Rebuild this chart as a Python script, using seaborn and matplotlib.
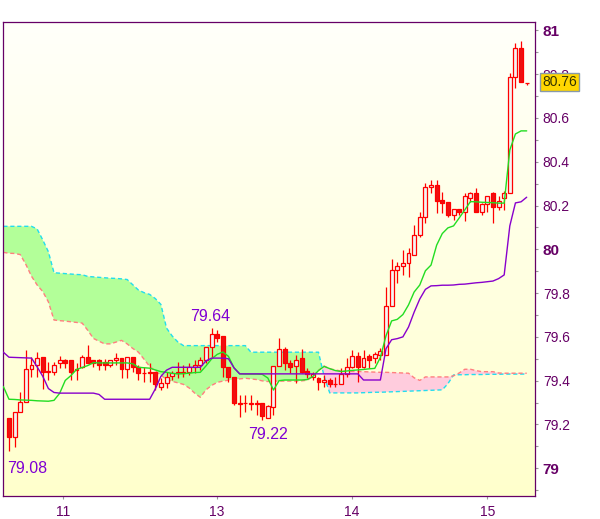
import numpy as np
import pandas as pd
import seaborn as sns
import matplotlib
matplotlib.use("Agg")
from matplotlib import pyplot as plt
from matplotlib import transforms
from matplotlib.colors import LinearSegmentedColormap

# candles, oldest first
opens = [79.228, 79.142, 79.259, 79.304, 79.452, 79.472, 79.510, 79.441, 79.441, 79.482,
         79.495, 79.495, 79.450, 79.461, 79.510, 79.495, 79.495, 79.487, 79.472, 79.495,
         79.503, 79.452, 79.510, 79.461, 79.434, 79.434, 79.441, 79.370, 79.391, 79.422,
         79.434, 79.441, 79.441, 79.461, 79.472, 79.495, 79.556, 79.614, 79.604, 79.461,
         79.418, 79.300, 79.297, 79.292, 79.300, 79.297, 79.228, 79.281, 79.467, 79.544,
         79.482, 79.467, 79.503, 79.446, 79.416, 79.411, 79.396, 79.403, 79.385, 79.385,
         79.431, 79.461, 79.513, 79.461, 79.513, 79.503, 79.518, 79.518, 79.743, 79.906,
         79.924, 79.937, 79.974, 80.064, 80.147, 80.284, 80.294, 80.226, 80.217, 80.157,
         80.183, 80.172, 80.233, 80.256, 80.172, 80.206, 80.256, 80.192, 80.233, 80.256,
         80.789, 80.919, 80.760]
highs = [79.230, 79.259, 79.350, 79.540, 79.507, 79.533, 79.510, 79.487, 79.487, 79.513,
         79.500, 79.495, 79.480, 79.518, 79.563, 79.495, 79.500, 79.500, 79.495, 79.525,
         79.503, 79.510, 79.510, 79.472, 79.464, 79.480, 79.441, 79.411, 79.441, 79.446,
         79.487, 79.472, 79.480, 79.495, 79.510, 79.556, 79.640, 79.630, 79.604, 79.461,
         79.418, 79.335, 79.335, 79.335, 79.310, 79.297, 79.290, 79.467, 79.594, 79.556,
         79.495, 79.518, 79.544, 79.457, 79.441, 79.418, 79.426, 79.411, 79.418, 79.457,
         79.503, 79.540, 79.533, 79.540, 79.522, 79.533, 79.548, 79.830, 79.955, 79.944,
         79.997, 80.005, 80.111, 80.172, 80.305, 80.317, 80.317, 80.264, 80.217, 80.183,
         80.183, 80.256, 80.264, 80.279, 80.211, 80.244, 80.264, 80.244, 80.268, 80.804,
         80.944, 80.953, 80.760]
lows = [79.080, 79.099, 79.259, 79.302, 79.418, 79.418, 79.361, 79.403, 79.426, 79.457,
        79.457, 79.403, 79.403, 79.457, 79.480, 79.464, 79.449, 79.449, 79.464, 79.472,
        79.411, 79.411, 79.441, 79.403, 79.396, 79.396, 79.358, 79.358, 79.365, 79.403,
        79.411, 79.418, 79.426, 79.434, 79.449, 79.480, 79.510, 79.578, 79.418, 79.396,
        79.289, 79.235, 79.259, 79.266, 79.243, 79.220, 79.228, 79.243, 79.467, 79.449,
        79.434, 79.388, 79.434, 79.411, 79.403, 79.358, 79.373, 79.373, 79.373, 79.385,
        79.418, 79.457, 79.396, 79.457, 79.457, 79.480, 79.495, 79.518, 79.743, 79.845,
        79.883, 79.873, 79.974, 80.055, 80.122, 80.256, 80.165, 80.165, 80.147, 80.134,
        80.157, 80.131, 80.218, 80.172, 80.157, 80.172, 80.122, 80.180, 80.180, 80.256,
        80.736, 80.763, 80.750]
closes = [79.142, 79.259, 79.302, 79.452, 79.472, 79.503, 79.441, 79.441, 79.472, 79.495,
          79.482, 79.441, 79.455, 79.510, 79.482, 79.482, 79.472, 79.472, 79.495, 79.503,
          79.452, 79.510, 79.461, 79.434, 79.434, 79.441, 79.384, 79.391, 79.418, 79.434,
          79.441, 79.434, 79.461, 79.472, 79.495, 79.556, 79.614, 79.594, 79.461, 79.418,
          79.300, 79.292, 79.297, 79.300, 79.292, 79.239, 79.285, 79.467, 79.544, 79.482,
          79.461, 79.495, 79.441, 79.431, 79.431, 79.396, 79.403, 79.385, 79.385, 79.431,
          79.461, 79.513, 79.461, 79.503, 79.495, 79.522, 79.537, 79.743, 79.906, 79.924,
          79.937, 79.985, 80.064, 80.147, 80.284, 80.294, 80.222, 80.213, 80.157, 80.183,
          80.172, 80.244, 80.256, 80.172, 80.206, 80.244, 80.192, 80.222, 80.256, 80.789,
          80.919, 80.763, 80.760]

# ichimoku lines, one value per bar, starting one bar before the first candle
tenkan = [79.373, 79.315, 79.314, 79.312, 79.311, 79.310, 79.308, 79.307, 79.306, 79.310,
          79.342, 79.401, 79.423, 79.451, 79.460, 79.469, 79.482, 79.481, 79.481, 79.481,
          79.481, 79.481, 79.481, 79.477, 79.461, 79.459, 79.457, 79.449, 79.441, 79.438,
          79.433, 79.431, 79.432, 79.434, 79.437, 79.438, 79.467, 79.499, 79.520, 79.531,
          79.511, 79.458, 79.431, 79.430, 79.430, 79.430, 79.429, 79.412, 79.357, 79.400,
          79.403, 79.403, 79.403, 79.403, 79.405, 79.419, 79.446, 79.465, 79.455, 79.446,
          79.442, 79.444, 79.447, 79.449, 79.451, 79.454, 79.456, 79.506, 79.605, 79.673,
          79.680, 79.702, 79.746, 79.805, 79.837, 79.902, 79.928, 80.019, 80.072, 80.098,
          80.107, 80.143, 80.180, 80.218, 80.217, 80.215, 80.214, 80.213, 80.211, 80.211,
          80.454, 80.527, 80.541, 80.541]
kijun = [79.530, 79.507, 79.506, 79.505, 79.504, 79.503, 79.463, 79.420, 79.364, 79.346,
         79.343, 79.343, 79.343, 79.343, 79.343, 79.343, 79.343, 79.337, 79.315, 79.315,
         79.315, 79.315, 79.315, 79.315, 79.315, 79.315, 79.315, 79.362, 79.420, 79.448,
         79.461, 79.461, 79.461, 79.461, 79.461, 79.461, 79.490, 79.503, 79.503, 79.503,
         79.500, 79.458, 79.431, 79.431, 79.431, 79.431, 79.431, 79.431, 79.431, 79.431,
         79.431, 79.431, 79.431, 79.431, 79.431, 79.431, 79.431, 79.431, 79.431, 79.431,
         79.431, 79.431, 79.431, 79.431, 79.403, 79.403, 79.403, 79.403, 79.546, 79.587,
         79.592, 79.600, 79.645, 79.713, 79.773, 79.817, 79.833, 79.834, 79.836, 79.836,
         79.837, 79.840, 79.841, 79.844, 79.847, 79.849, 79.852, 79.855, 79.866, 79.883,
         80.107, 80.212, 80.217, 80.238]
span_b = [80.105, 80.105, 80.105, 80.105, 80.105, 80.105, 80.093, 80.043, 79.989, 79.893,
          79.891, 79.889, 79.887, 79.885, 79.884, 79.876, 79.874, 79.872, 79.870, 79.868,
          79.867, 79.865, 79.862, 79.838, 79.814, 79.802, 79.794, 79.775, 79.748, 79.640,
          79.604, 79.577, 79.560, 79.560, 79.560, 79.560, 79.560, 79.560, 79.560, 79.560,
          79.560, 79.560, 79.560, 79.560, 79.530, 79.530, 79.530, 79.530, 79.530, 79.530,
          79.530, 79.530, 79.530, 79.530, 79.530, 79.530, 79.530, 79.420, 79.344, 79.344,
          79.344, 79.344, 79.344, 79.344, 79.345, 79.346, 79.347, 79.347, 79.348, 79.349,
          79.350, 79.351, 79.352, 79.353, 79.354, 79.355, 79.356, 79.357, 79.358, 79.386,
          79.426, 79.427, 79.427, 79.428, 79.428, 79.428, 79.429, 79.429, 79.429, 79.430,
          79.430, 79.430, 79.430, 79.430]
span_a = [79.986, 79.982, 79.981, 79.976, 79.931, 79.877, 79.837, 79.807, 79.760, 79.677,
          79.674, 79.672, 79.669, 79.666, 79.663, 79.630, 79.593, 79.580, 79.568, 79.568,
          79.576, 79.584, 79.568, 79.547, 79.530, 79.498, 79.465, 79.444, 79.425, 79.405,
          79.397, 79.390, 79.383, 79.367, 79.343, 79.324, 79.358, 79.378, 79.392, 79.398,
          79.402, 79.406, 79.408, 79.411, 79.408, 79.405, 79.399, 79.396, 79.398, 79.398,
          79.398, 79.398, 79.398, 79.399, 79.402, 79.419, 79.447, 79.467, 79.454, 79.449,
          79.444, 79.443, 79.442, 79.442, 79.441, 79.440, 79.439, 79.438, 79.438, 79.437,
          79.436, 79.435, 79.434, 79.413, 79.401, 79.417, 79.417, 79.417, 79.417, 79.417,
          79.422, 79.435, 79.452, 79.452, 79.446, 79.441, 79.441, 79.441, 79.435, 79.434,
          79.434, 79.434, 79.434, 79.434]

# day ticks on the bar axis
day_pos = [9.6, 36.9, 60.9, 85.0]
day_labels = ["11", "13", "14", "15"]

price_ticks = [79.0, 79.2, 79.4, 79.6, 79.8, 80.0, 80.2, 80.4, 80.6, 80.8, 81.0]
price_labels = ["79", "79.2", "79.4", "79.6", "79.8", "80", "80.2", "80.4", "80.6", "80.8", "81"]
minor_ticks = [78.9, 79.1, 79.3, 79.5, 79.7, 79.9, 80.1, 80.3, 80.5, 80.7, 80.9]

# highs/lows that carry a value label: (bar, "high"/"low")
marked_bars = [0, 36, 45]
marked_kind = ["low", "high", "low"]
last_price = 80.76

if __name__ == "__main__":
    sns.set_style("white")
    plt.rcParams["font.family"] = ["Liberation Sans", "DejaVu Sans"]

    candles = pd.DataFrame({"open": opens, "high": highs, "low": lows, "close": closes})
    candles["bar"] = np.arange(len(candles))
    lines = pd.DataFrame({"tenkan": tenkan, "kijun": kijun, "span_a": span_a, "span_b": span_b})
    lines["bar"] = np.arange(-1, len(lines) - 1)

    fig = plt.figure(figsize=(6, 5.19), dpi=100)
    ax = fig.add_axes([0.0055, 0.0443, 0.8862, 0.9127])
    xlim = (-1.01, 93.48)
    ylim = (78.873, 81.037)

    # pale yellow gradient background
    grad = LinearSegmentedColormap.from_list("bg", ["#FFFFCC", "#FFFFFA"])
    ax.imshow(np.linspace(0, 1, 256).reshape(-1, 1), cmap=grad, origin="lower",
              extent=[xlim[0], xlim[1], ylim[0], ylim[1]], aspect="auto", zorder=0)

    # cloud
    up_cloud = lines.span_b >= lines.span_a
    ax.fill_between(lines.bar, lines.span_b, lines.span_a, where=up_cloud, interpolate=True,
                    color="#B3FF99", lw=0, zorder=1)
    ax.fill_between(lines.bar, lines.span_b, lines.span_a, where=~up_cloud, interpolate=True,
                    color="#FFCCDD", lw=0, zorder=1)
    sns.lineplot(data=lines, x="bar", y="span_b", ax=ax, color="#22DDEE", linewidth=1.0,
                 linestyle=(0, (3, 2)), zorder=2, legend=False)
    sns.lineplot(data=lines, x="bar", y="span_a", ax=ax, color="#FF7F7F", linewidth=1.0,
                 linestyle=(0, (3, 2)), zorder=2, legend=False)

    # candles
    rising = candles.close >= candles.open
    body_low = np.minimum(candles.open, candles.close)
    body_h = np.maximum((candles.close - candles.open).abs(), 0.0015)
    ax.vlines(candles.bar, candles.low, candles.high, color="#FF0000", linewidth=0.9, zorder=3)
    ax.bar(candles.bar, body_h, bottom=body_low, width=0.7,
           color=np.where(rising, "#F4F4F4", "#EE1111"), edgecolor="#FF0000",
           linewidth=0.9, zorder=4)

    # conversion / base lines
    sns.lineplot(data=lines, x="bar", y="tenkan", ax=ax, color="#22DD22", linewidth=1.0,
                 zorder=5, legend=False)
    sns.lineplot(data=lines, x="bar", y="kijun", ax=ax, color="#8800CC", linewidth=1.0,
                 zorder=5, legend=False)

    # value labels at the marked highs and lows
    offsets = [(-2.3, -22), (-1, 7.5), (5.3, -19)]
    for bar, kind, off in zip(marked_bars, marked_kind, offsets):
        val = candles.high[bar] if kind == "high" else candles.low[bar]
        ax.annotate(f"{val:.2f}", xy=(bar, val), xytext=off, textcoords="offset pixels",
                    ha="left" if bar == 0 else "center", va="baseline",
                    fontsize=11.5, color="#7F00D4", zorder=6)

    ax.set_xlim(*xlim)
    ax.set_ylim(*ylim)
    ax.set(xlabel="", ylabel="")

    ax.set_xticks(day_pos, day_labels)
    ax.yaxis.tick_right()
    ax.set_yticks(price_ticks, price_labels)
    ax.set_yticks(minor_ticks, minor=True)
    ax.tick_params(axis="x", length=2.4, width=0.8, color="#999999", labelcolor="#660066",
                   labelsize=10, pad=4, bottom=True)
    ax.tick_params(axis="y", which="both", length=2.4, width=0.8, color="#999999",
                   labelcolor="#660066", labelsize=10, pad=3.2, right=True, left=False)
    for lab in ax.get_yticklabels():
        if "." not in lab.get_text():
            lab.set_fontweight("bold")
            lab.set_fontsize(11)
    for sp in ax.spines.values():
        sp.set_color("#660066")
        sp.set_linewidth(0.9)

    # last price tag on the axis
    trans = transforms.blended_transform_factory(ax.transAxes, ax.transData)
    ax.text(1.0137, last_price + 0.004, f"{last_price:.2f}", transform=trans, ha="left",
            va="center", fontsize=10, color="#333300", clip_on=False, zorder=10,
            bbox=dict(boxstyle="square,pad=0.15", fc="#FFD700", ec="#8899AA", lw=1))

    plt.savefig("out.png", dpi=100)
    plt.close()
